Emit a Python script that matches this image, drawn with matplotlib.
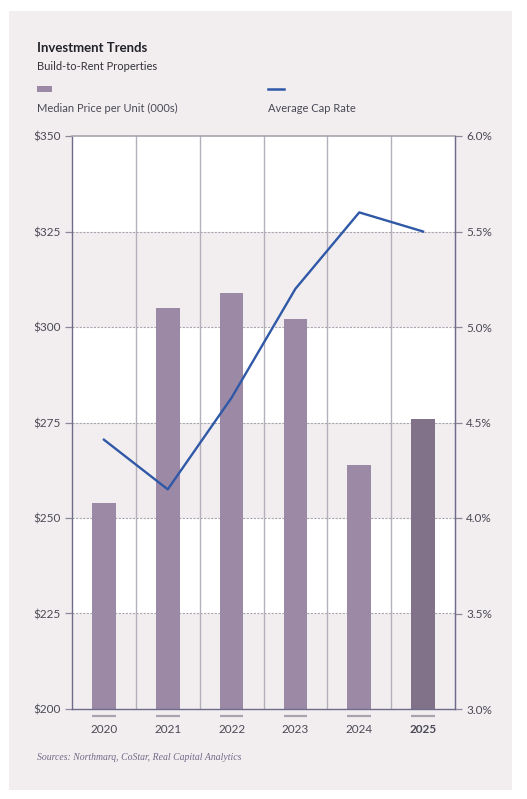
import numpy as np
import matplotlib.pyplot as plt
from matplotlib.patches import Rectangle
from matplotlib.lines import Line2D

years = ['2020', '2021', '2022', '2023', '2024', '2025']
price = [254, 305, 309, 302, 264, 276]          # median price per unit, $000s
cap_rate = [4.41, 4.15, 4.63, 5.20, 5.60, 5.50]  # average cap rate, %

price_ticks = [200, 225, 250, 275, 300, 325, 350]
rate_ticks = [3.0, 3.5, 4.0, 4.5, 5.0, 5.5, 6.0]

bar_col = '#9c89a6'
bar_last = '#827289'
line_col = '#2f58a6'
panel = '#f2eef0'
txt = '#4a4a55'
grid_col = '#b3b0ba'
spine_col = '#6e6c8a'

plt.rcParams['font.family'] = ['Lato', 'DejaVu Sans']

W, H = 527, 799
fig = plt.figure(figsize=(W / 100, H / 100), dpi=100)
fig.patch.set_facecolor('white')

def fx(px):
    return px / W

def fy(py):
    return 1 - py / H

# background panel
fig.patches.append(Rectangle((fx(9), fy(790)), fx(512) - fx(9), fy(11) - fy(790),
                             transform=fig.transFigure, facecolor=panel,
                             edgecolor='none', zorder=-10))

ax = fig.add_axes([fx(72), fy(709), fx(455) - fx(72), fy(136) - fy(709)])
ax.set_facecolor('white')
x = np.arange(len(years))

# alternating bands
for lo in [200, 250, 300]:
    ax.axhspan(lo, lo + 25, color=panel, zorder=0, lw=0)
for v in price_ticks[1:-1]:
    ax.axhline(v, color='#a8a5ae', lw=0.8, ls=(0, (2, 1.2)), zorder=1)
for b in x[:-1] + 0.5:
    ax.axvline(b, color=grid_col, lw=1.0, zorder=1)

colors = [bar_col] * (len(years) - 1) + [bar_last]
ax.bar(x, price, width=0.37, color=colors, zorder=2)
ax.set_xlim(-0.5, len(years) - 0.5)
ax.set_ylim(200, 350)
ax.set_yticks(price_ticks)
ax.set_yticklabels(['$%d' % v for v in price_ticks])
ax.set_xticks(x)
ax.set_xticklabels(years)
for lab in ax.get_xticklabels():
    if lab.get_text() == '2025':
        lab.set_fontweight('bold')
ax.tick_params(axis='x', length=0, pad=11, labelsize=8.5, labelcolor=txt)
ax.tick_params(axis='y', length=5, width=0.9, color='#8a889a', pad=3,
               labelsize=8.5, labelcolor=txt)
ax.hlines([-0.0122] * len(x), x - 0.185, x + 0.185,
          transform=ax.get_xaxis_transform(), colors='#a9a3ae', lw=1.6,
          clip_on=False)

for s in ['left', 'bottom', 'right']:
    ax.spines[s].set_color(spine_col)
    ax.spines[s].set_linewidth(1.0)
ax.spines['top'].set_color('#a8a5ad')
ax.spines['top'].set_linewidth(1.2)

ax2 = ax.twinx()
ax2.plot(x, cap_rate, color=line_col, lw=1.7, zorder=3)
ax2.set_ylim(3.0, 6.0)
ax2.set_yticks(rate_ticks)
ax2.set_yticklabels(['%.1f%%' % v for v in rate_ticks])
ax2.tick_params(axis='y', length=5, width=0.9, color='#8a889a', pad=3,
                labelsize=8.5, labelcolor=txt)
for s in ['left', 'top', 'bottom']:
    ax2.spines[s].set_visible(False)
ax2.spines['right'].set_color(spine_col)

# header
fig.text(fx(37), fy(48), 'Investment Trends', fontsize=9.5, fontweight='bold',
         color='#222228', va='center')
fig.text(fx(37), fy(67), 'Build-to-Rent Properties', fontsize=8,
         color='#333339', va='center')

fig.patches.append(Rectangle((fx(37), fy(92)), fx(15), fy(86) - fy(92),
                             transform=fig.transFigure, facecolor=bar_col,
                             edgecolor='none'))
fig.lines.append(Line2D([fx(268), fx(284)], [fy(89), fy(89)],
                        transform=fig.transFigure, color=line_col, lw=1.8))
fig.text(fx(37), fy(108), 'Median Price per Unit (000s)', fontsize=8,
         color=txt, va='center')
fig.text(fx(268), fy(108), 'Average Cap Rate', fontsize=8, color=txt,
         va='center')

fig.text(fx(37), fy(757), 'Sources: Northmarq, CoStar, Real Capital Analytics',
         fontsize=7, fontstyle='italic', family='Liberation Serif',
         color='#6e6a86', va='center')

fig.savefig('out.png', dpi=100, facecolor=fig.get_facecolor())
